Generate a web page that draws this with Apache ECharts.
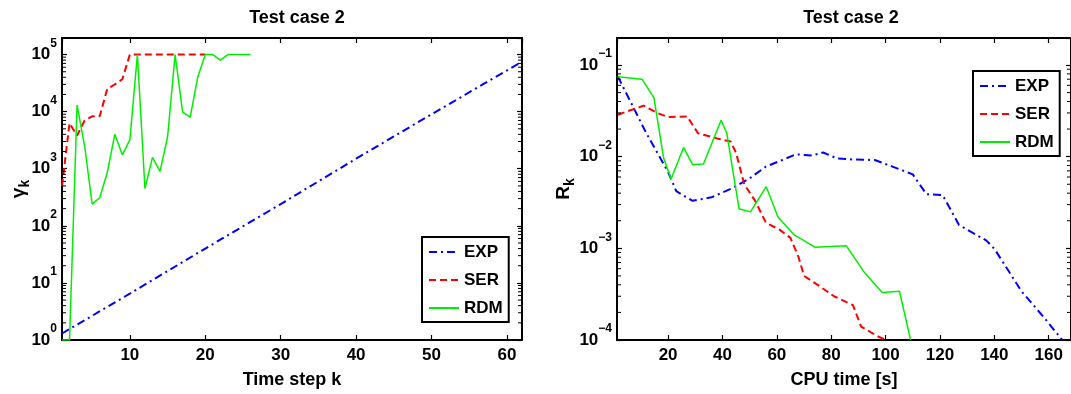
<!DOCTYPE html>
<html>
<head>
<meta charset="utf-8">
<script src="https://cdn.jsdelivr.net/npm/echarts@6/dist/echarts.min.js"></script>
<style>
html,body{margin:0;padding:0;background:#fff;}
#chart{width:1071px;height:394px;}
</style>
</head>
<body>
<div id="chart"></div>
<script>
// ---------- Data ----------
const seriesNames = ['EXP', 'SER', 'RDM'];
const chartTitle = 'Test case 2';

// Left panel: gamma_k vs time step k
const leftExpK   = [1, 10, 20, 30, 40, 50, 62];
const leftExpVal = [1.3, 6.5, 40, 240, 1500, 9000, 75000];

const leftSerK   = [1, 2, 3, 4, 5, 6, 7, 8, 9, 10, 11, 12, 13, 14, 15, 16, 17, 18, 19, 20];
const leftSerVal = [500, 6300, 3800, 7000, 8300, 8300, 25000, 30000, 37000, 100000,
                    100000, 100000, 100000, 100000, 100000, 100000, 100000, 100000, 100000, 100000];

const leftRdmK   = [1, 2, 3, 4, 5, 6, 7, 8, 9, 10, 11, 12, 13, 14, 15, 16, 17, 18, 19, 20, 21, 22, 23, 24, 25, 26];
const leftRdmVal = [1, 1, 13000, 2500, 240, 310, 850, 4000, 1750, 3200, 100000, 450, 1580, 900, 3600,
                    100000, 9800, 8000, 40000, 100000, 100000, 80000, 100000, 100000, 100000, 100000];

// Right panel: R_k vs CPU time [s]
const rightExpT   = [1.5, 12, 20, 23, 29, 36, 44, 50, 56, 62, 67, 73, 77, 82, 88, 96, 103, 110, 115, 121, 127, 137, 140, 150, 158, 165];
const rightExpVal = [0.075, 0.018, 0.0068, 0.0042, 0.0033, 0.0036, 0.0046, 0.0058, 0.0078, 0.0092, 0.0106, 0.0103, 0.0111,
                     0.0096, 0.0093, 0.0092, 0.0077, 0.0064, 0.0039, 0.0038, 0.0018, 0.00122, 0.00099, 0.00034, 0.00018, 0.0001];

const rightSerT   = [1.5, 11, 16, 20, 27, 31, 38, 43, 45, 48, 52, 56, 61, 65, 68, 70, 75, 81, 88, 91, 97, 100];
const rightSerVal = [0.0287, 0.036, 0.030, 0.027, 0.0275, 0.018, 0.0158, 0.0146, 0.011, 0.005, 0.0033, 0.0019,
                     0.0016, 0.0013, 0.0008, 0.0005, 0.0004, 0.0003, 0.00024, 0.00014, 0.00011, 0.0001];

const rightRdmT   = [1.5, 10.4, 14.8, 18.3, 21.1, 25.7, 29, 33, 39.5, 41.6, 46.1, 50.3, 56.1, 60.4, 66.4, 74, 85.5, 92.5, 98.8, 105.1, 109.2];
const rightRdmVal = [0.0743, 0.070, 0.0438, 0.0098, 0.0057, 0.0126, 0.0082, 0.0083, 0.025, 0.018, 0.0027, 0.0025,
                     0.0047, 0.0022, 0.0014, 0.00103, 0.00107, 0.00053, 0.00033, 0.00034, 0.0001];

// Axis ranges
const leftX = [1, 62], leftY = [1, 195000];
const rightX = [1.2, 168.2], rightY = [1e-4, 0.197];

// ---------- Styling ----------
const FONT = '"Liberation Sans", Arial, Helvetica, sans-serif';
const COLORS = {EXP: '#0000ff', SER: '#ff0000', RDM: '#00ee00'};
const LSTYLE = {
  EXP: {color: COLORS.EXP, width: 2, type: [8, 4, 2, 4]},
  SER: {color: COLORS.SER, width: 2, type: [7, 4]},
  RDM: {color: COLORS.RDM, width: 1.5, type: 'solid'}
};

function zip(a, b) { return a.map((v, i) => [v, b[i]]); }

function expLabel(v) {
  const e = Math.round(Math.log10(v));
  const s = e < 0 ? '\u2212' + (-e) : String(e);
  return '{b|10}{s|' + s + '}';
}
const labelRich = {
  b: {fontFamily: FONT, fontWeight: 'bold', fontSize: 17, lineHeight: 34, color: '#000'},
  s: {fontFamily: FONT, fontWeight: 'bold', fontSize: 12, lineHeight: 12, verticalAlign: 'top', color: '#000'}
};

const axisLine = {show: true, onZero: false, lineStyle: {color: '#000', width: 2}};
const tick = {show: true, inside: true, length: 5, lineStyle: {color: '#000', width: 1.2}};

function xAxes(gridIndex, range, split, name) {
  return [
    {
      type: 'value', gridIndex, min: range[0], max: range[1], splitNumber: split,
      position: 'bottom', axisLine, axisTick: tick, splitLine: {show: false},
      axisLabel: {show: true, margin: 7, showMinLabel: false, showMaxLabel: false,
        fontFamily: FONT, fontWeight: 'bold', fontSize: 17, color: '#000'},
      name, nameLocation: 'middle', nameGap: 31,
      nameTextStyle: {fontFamily: FONT, fontWeight: 'bold', fontSize: 18, color: '#000'}
    },
    {
      type: 'value', gridIndex, min: range[0], max: range[1], splitNumber: split,
      position: 'top', axisLine, axisTick: tick, splitLine: {show: false}, axisLabel: {show: false}
    }
  ];
}
function yAxes(gridIndex, range, split, nameRich, nameGap) {
  return [
    {
      type: 'log', logBase: 10, gridIndex, min: range[0], max: range[1], splitNumber: split,
      position: 'left', axisLine, axisTick: tick, splitLine: {show: false}, minorTick: {show: false},
      axisLabel: {show: true, margin: 5, showMaxLabel: false, formatter: expLabel, rich: labelRich},
      name: nameRich, nameLocation: 'middle', nameGap, nameRotate: 90, nameMoveOverlap: false,
      nameTextStyle: {
        rich: {
          g: {fontFamily: FONT, fontWeight: 'bold', fontSize: 19, lineHeight: 26, color: '#000'},
          k: {fontFamily: FONT, fontWeight: 'bold', fontSize: 14, lineHeight: 14, verticalAlign: 'bottom', color: '#000'}
        }
      }
    },
    {
      type: 'log', logBase: 10, gridIndex, min: range[0], max: range[1], splitNumber: split,
      position: 'right', axisLine, axisTick: tick, splitLine: {show: false}, axisLabel: {show: false}
    }
  ];
}

function lineSeries(name, data, gi) {
  return {
    type: 'line', name, data, xAxisIndex: gi * 2, yAxisIndex: gi * 2,
    symbol: 'none', showSymbol: false, lineStyle: LSTYLE[name], itemStyle: {color: COLORS[name]},
    z: 3, animation: false
  };
}

// minor log ticks (2..9 per decade) drawn through the axis scale
function minorValues(range) {
  const out = [];
  const lo = Math.floor(Math.log10(range[0])), hi = Math.ceil(Math.log10(range[1]));
  for (let e = lo; e < hi; e++) {
    for (let m = 2; m <= 9; m++) {
      const v = m * Math.pow(10, e);
      if (v > range[0] && v < range[1]) out.push(v);
    }
  }
  return out;
}
function minorTickSeries(gi, xr, yr) {
  return {
    type: 'custom', coordinateSystem: 'cartesian2d', xAxisIndex: gi * 2, yAxisIndex: gi * 2,
    silent: true, z: 4, clip: false,
    dimensions: ['x', 'y'], encode: {x: 0, y: 1},
    data: minorValues(yr).map(v => [xr[0], v]),
    renderItem: function (params, api) {
      const yv = api.value(1);
      const pL = api.coord([xr[0], yv]);
      const pR = api.coord([xr[1], yv]);
      return {
        type: 'group', children: [
          {type: 'line', shape: {x1: pL[0], y1: pL[1], x2: pL[0] + 4, y2: pL[1]}, style: {stroke: '#000', lineWidth: 1}},
          {type: 'line', shape: {x1: pR[0], y1: pR[1], x2: pR[0] - 4, y2: pR[1]}, style: {stroke: '#000', lineWidth: 1}}
        ]
      };
    }
  };
}

const legendBase = {
  orient: 'vertical', data: seriesNames, backgroundColor: '#fff',
  borderColor: '#000', borderWidth: 2, padding: [5, 6, 4, 6],
  itemWidth: 30, itemHeight: 14, itemGap: 8, selectedMode: false,
  itemStyle: {opacity: 0},
  textStyle: {fontFamily: FONT, fontWeight: 'bold', fontSize: 17, lineHeight: 20, color: '#000'}
};

const chart = echarts.init(document.getElementById('chart'), null, {renderer: 'canvas'});
chart.setOption({
  animation: false,
  backgroundColor: '#fff',
  title: [
    {text: chartTitle, left: 292, top: 4, textAlign: 'center',
     textStyle: {fontFamily: FONT, fontWeight: 'bold', fontSize: 18, color: '#000'}},
    {text: chartTitle, left: 846, top: 4, textAlign: 'center',
     textStyle: {fontFamily: FONT, fontWeight: 'bold', fontSize: 18, color: '#000'}}
  ],
  grid: [
    {left: 62, top: 38, width: 460, height: 306, containLabel: false},
    {left: 617, top: 38, width: 459, height: 306, containLabel: false}
  ],
  xAxis: [].concat(xAxes(0, leftX, 6, 'Time step k'), xAxes(1, rightX, 8, 'CPU time [s]')),
  yAxis: [].concat(yAxes(0, leftY, 5, '{g|\u03b3}{k|k}', 30), yAxes(1, rightY, 3, '{g|R}{k|k}', 40)),
  legend: [
    Object.assign({}, legendBase, {left: 422, top: 237}),
    Object.assign({}, legendBase, {left: 973, top: 71})
  ],
  series: [
    lineSeries('EXP', zip(leftExpK, leftExpVal), 0),
    lineSeries('SER', zip(leftSerK, leftSerVal), 0),
    lineSeries('RDM', zip(leftRdmK, leftRdmVal), 0),
    lineSeries('EXP', zip(rightExpT, rightExpVal), 1),
    lineSeries('SER', zip(rightSerT, rightSerVal), 1),
    lineSeries('RDM', zip(rightRdmT, rightRdmVal), 1),
    minorTickSeries(0, leftX, leftY),
    minorTickSeries(1, rightX, rightY)
  ]
});
</script>
</body>
</html>
